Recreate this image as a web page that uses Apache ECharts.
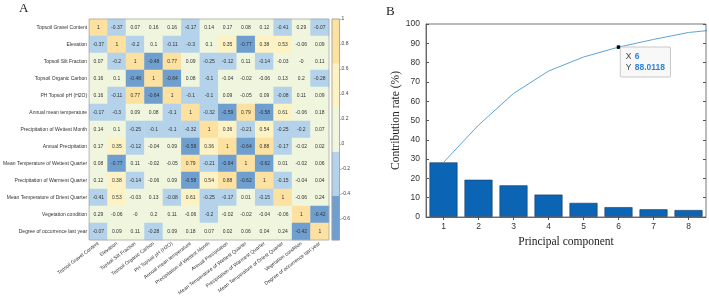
<!DOCTYPE html>
<html><head><meta charset="utf-8">
<script src="https://cdn.jsdelivr.net/npm/echarts@6/dist/echarts.min.js"></script>
<style>html,body{margin:0;padding:0;background:#fff}#c{width:709px;height:305px}</style>
</head><body><div id="c"></div>
<script>
// ---- Panel A: correlation matrix ----
const variables = [
  'Topsoil Gravel Content','Elevation','Topsoil Silt Fraction','Topsoil Organic Carbon',
  'PH Topsoil pH (H2O)','Annual mean temperature','Precipitation of Wettest Month',
  'Annual Precipitation','Mean Temperature of Wettest Quarter','Precipitation of Warmest Quarter',
  'Mean Temperature of Driest Quarter','Vegetation condition','Degree of occurrence last year'
];
const corr = [
  [1,-0.37,0.07,0.16,0.16,-0.17,0.14,0.17,0.08,0.12,-0.41,0.29,-0.07],
  [-0.37,1,-0.2,0.1,-0.11,-0.3,0.1,0.35,-0.77,0.38,0.53,-0.06,0.09],
  [0.07,-0.2,1,-0.48,0.77,0.09,-0.25,-0.12,0.11,-0.14,-0.03,-0,0.11],
  [0.16,0.1,-0.48,1,-0.64,0.08,-0.1,-0.04,-0.02,-0.06,0.13,0.2,-0.28],
  [0.16,-0.11,0.77,-0.64,1,-0.1,-0.1,0.09,-0.05,0.09,-0.08,0.11,0.09],
  [-0.17,-0.3,0.09,0.08,-0.1,1,-0.32,-0.59,0.79,-0.58,0.61,-0.06,0.18],
  [0.14,0.1,-0.25,-0.1,-0.1,-0.32,1,0.36,-0.21,0.54,-0.25,-0.2,0.07],
  [0.17,0.35,-0.12,-0.04,0.09,-0.59,0.36,1,-0.64,0.88,-0.17,-0.02,0.02],
  [0.08,-0.77,0.11,-0.02,-0.05,0.79,-0.21,-0.64,1,-0.62,0.01,-0.02,0.06],
  [0.12,0.38,-0.14,-0.06,0.09,-0.58,0.54,0.88,-0.62,1,-0.15,-0.04,0.04],
  [-0.41,0.53,-0.03,0.13,-0.08,0.61,-0.25,-0.17,0.01,-0.15,1,-0.06,0.24],
  [0.29,-0.06,-0,0.2,0.11,-0.06,-0.2,-0.02,-0.02,-0.04,-0.06,1,-0.42],
  [-0.07,0.09,0.11,-0.28,0.09,0.18,0.07,0.02,0.06,0.04,0.24,-0.42,1]
];
const colorBreaks = [-0.77, -0.416, -0.062, 0.292, 0.646, 1];
const colorLevels = ['#6f9fcf', '#b4d3eb', '#f0f5de', '#fdf2c3', '#fce1a0'];
const colorbarSamples = [-0.6, -0.24, 0.12, 0.47, 0.82];
const colorbarTicks = [-0.6, -0.4, -0.2, 0, 0.2, 0.4, 0.6, 0.8, 1];

// ---- Panel B: PCA contribution ----
const components = [1, 2, 3, 4, 5, 6, 7, 8];
const contribution = [28.3, 19.3, 16.4, 11.6, 7.3, 5.1, 4.0, 3.6];
const cumulative = [28.3, 47.6, 64.0, 75.6, 82.9, 88.0118, 92.0, 95.6, 97.4];
const datatip = [6, 88.0118];

const SANS = 'Liberation Sans, Arial, sans-serif';
const SERIF = 'Liberation Serif, Times New Roman, serif';

const heatData = [];
corr.forEach((row, i) => row.forEach((v, j) => heatData.push([j, i, v])));
const cbData = colorbarSamples.map((v, k) => [0, k, v]);

const pieces = colorLevels.map((c, k) => ({gte: colorBreaks[k], lt: colorBreaks[k + 1] + (k === colorLevels.length - 1 ? 0.001 : 0), color: c}));

function cellText(p) {
  const v = corr[p.value[1]][p.value[0]];
  return Object.is(v, -0) ? '-0' : String(v);
}

const chart = echarts.init(document.getElementById('c'), null, {renderer: 'canvas'});
chart.setOption({
  animation: false,
  title: [
    {text: 'A', left: 19, top: 2, padding: 0, textStyle: {fontFamily: SERIF, fontSize: 13, fontWeight: 'normal', color: '#222'}},
    {text: 'B', left: 386, top: 5, padding: 0, textStyle: {fontFamily: SERIF, fontSize: 13, fontWeight: 'normal', color: '#222'}}
  ],
  visualMap: {type: 'piecewise', show: false, dimension: 2, seriesIndex: [0, 1], pieces: pieces},
  grid: [
    {left: 87, top: 19, width: 242, height: 221, show: true, borderColor: '#a8a8a8', borderWidth: 0.8, z: 5},
    {left: 332, top: 19, width: 7.5, height: 221, show: true, borderColor: '#9a9a9a', borderWidth: 0.8, z: 5},
    {left: 426, top: 24, width: 280, height: 193, show: true, borderColor: '#555', borderWidth: 0.8, z: 5}
  ],
  xAxis: [
    {type: 'category', gridIndex: 0, data: variables, axisLine: {show: false}, axisTick: {show: false},
     axisLabel: {interval: 0, rotate: 37, margin: 3, fontSize: 5, fontFamily: SANS, color: '#333'}},
    {type: 'category', gridIndex: 1, data: ['c'], show: false},
    {type: 'value', gridIndex: 2, min: 0.5, max: 8.5, splitLine: {show: false},
     axisLine: {show: true, lineStyle: {color: '#555', width: 0.8}},
     axisTick: {show: true, inside: true, length: 3, customValues: components, lineStyle: {color: '#555'}},
     axisLabel: {customValues: components, fontSize: 8.5, fontFamily: SANS, color: '#333', margin: 5},
     name: 'Principal component', nameLocation: 'middle', nameGap: 18,
     nameTextStyle: {fontFamily: SERIF, fontSize: 11.5, color: '#222'}},
    {type: 'value', gridIndex: 2, min: 0.5, max: 8.5, position: 'top', splitLine: {show: false},
     axisLine: {show: false}, axisLabel: {show: false},
     axisTick: {show: true, inside: true, length: 3, customValues: components, lineStyle: {color: '#555'}}}
  ],
  yAxis: [
    {type: 'category', gridIndex: 0, data: variables, inverse: true, axisLine: {show: false}, axisTick: {show: false},
     axisLabel: {interval: 0, margin: 2, fontSize: 5, fontFamily: SANS, color: '#333'}},
    {type: 'category', gridIndex: 1, data: ['a', 'b', 'c', 'd', 'e'], show: false},
    {type: 'value', gridIndex: 1, min: colorBreaks[0], max: colorBreaks[colorBreaks.length - 1], position: 'right',
     splitLine: {show: false}, axisLine: {show: false},
     axisTick: {show: true, length: 2, customValues: colorbarTicks, lineStyle: {color: '#888', width: 0.6}},
     axisLabel: {customValues: colorbarTicks, fontSize: 5, fontFamily: SANS, color: '#444', margin: 2}},
    {type: 'value', gridIndex: 2, min: 0, max: 100, interval: 10, splitLine: {show: false},
     axisLine: {show: true, lineStyle: {color: '#555', width: 0.8}},
     axisTick: {show: true, inside: true, length: 3, lineStyle: {color: '#555'}},
     axisLabel: {fontSize: 8.5, fontFamily: SANS, color: '#333', margin: 6},
     name: 'Contribution rate (%)', nameLocation: 'middle', nameGap: 24,
     nameTextStyle: {fontFamily: SERIF, fontSize: 11.5, color: '#222'}},
    {type: 'value', gridIndex: 2, min: 0, max: 100, interval: 10, position: 'right', splitLine: {show: false},
     axisLine: {show: false}, axisLabel: {show: false},
     axisTick: {show: true, inside: true, length: 3, lineStyle: {color: '#555'}}}
  ],
  series: [
    {type: 'heatmap', xAxisIndex: 0, yAxisIndex: 0, data: heatData,
     label: {show: true, fontSize: 5, fontFamily: SANS, color: '#333', formatter: cellText},
     itemStyle: {borderWidth: 0}},
    {type: 'heatmap', xAxisIndex: 1, yAxisIndex: 1, data: cbData, label: {show: false}},
    {type: 'bar', xAxisIndex: 2, yAxisIndex: 3, data: components.map((c, i) => [c, contribution[i]]),
     barWidth: 28, itemStyle: {color: '#0c64b4', borderColor: '#183c60', borderWidth: 0.6}},
    {type: 'line', xAxisIndex: 2, yAxisIndex: 3, data: cumulative.map((v, i) => [i + 1, v]),
     symbol: 'none', clip: true, lineStyle: {color: '#5ba4d6', width: 1}, itemStyle: {color: '#5ba4d6'},
     markPoint: {
       symbol: 'rect', symbolSize: 3.5, itemStyle: {color: '#000'},
       data: [{coord: datatip}],
       label: {show: true, position: [4, 2], align: 'left', verticalAlign: 'top',
         backgroundColor: '#f8f8f8', borderColor: '#c9c9c9', borderWidth: 1, borderRadius: 1,
         padding: [4, 5, 3, 5], lineHeight: 11,
         formatter: p => '{k|X} {v|' + p.data.coord[0] + '}\n{k|Y} {v|' + p.data.coord[1] + '}',
         rich: {k: {fontSize: 8.5, fontFamily: SANS, color: '#444'},
                v: {fontSize: 8.5, fontFamily: SANS, color: '#2a84d8', fontWeight: 'bold'}}}
     }}
  ]
});
</script></body></html>
